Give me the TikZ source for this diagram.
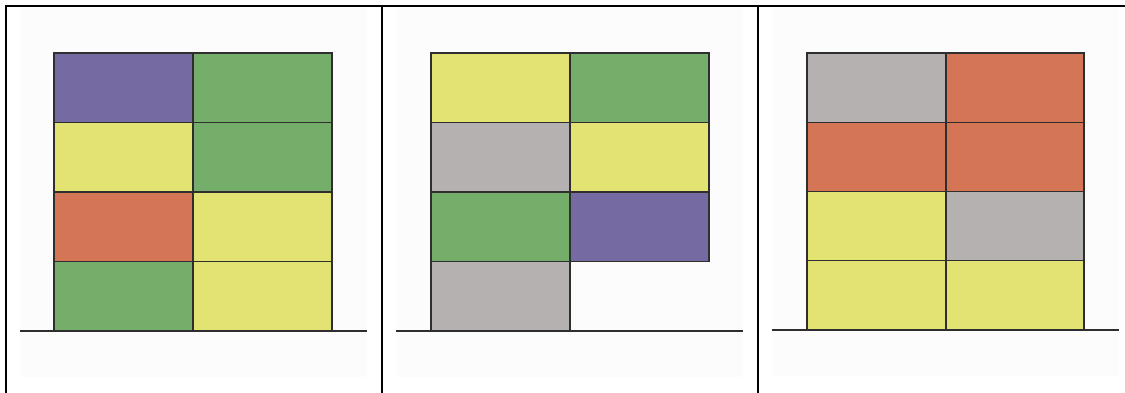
\documentclass[tikz,border=0pt]{standalone}
\definecolor{cpurple}{HTML}{766AA3}
\definecolor{cgreen}{HTML}{75AE6A}
\definecolor{cyellow}{HTML}{E3E373}
\definecolor{corange}{HTML}{D47555}
\definecolor{cgray}{HTML}{B5B1B0}
\definecolor{cbg}{HTML}{FCFCFC}
\definecolor{cedge}{HTML}{2E2E2E}
\tikzset{
  frame/.style={line width=2pt,black},
  panelbg/.style={fill=cbg,draw=none},
  ground/.style={line width=1.6pt,draw=cedge},
  blockbox/.style={draw=cedge,line width=1.3pt},
}
\begin{document}
\begin{tikzpicture}[x=1pt,y=-1pt]
\useasboundingbox (0,0) rectangle (1125,393);
\fill[white] (0,0) rectangle (1125,393);
% panel backgrounds
\fill[panelbg] (20,8) rectangle (367,377);
\fill[panelbg] (396,8) rectangle (743,377);
\fill[panelbg] (772,8) rectangle (1119,376);
% frame
\draw[frame] (6,393) -- (6,6.5) -- (1125,6.5);
\draw[frame] (382,6.5) -- (382,393);
\draw[frame] (758,6.5) -- (758,393);
% panel 1
\foreach \r/\a/\b in {0/cpurple/cgreen,1/cyellow/cgreen,2/corange/cyellow,3/cgreen/cyellow}{
  \pgfmathsetmacro{\ytop}{53+69.5*\r}
  \pgfmathsetmacro{\ybot}{53+69.5*(\r+1)}
  \filldraw[blockbox,fill=\a] (54,\ytop) rectangle (193,\ybot);
  \filldraw[blockbox,fill=\b] (193,\ytop) rectangle (332,\ybot);
}
\draw[ground] (20,331) -- (367,331);
% panel 2
\foreach \r/\a/\b in {0/cyellow/cgreen,1/cgray/cyellow,2/cgreen/cpurple}{
  \pgfmathsetmacro{\ytop}{53+69.5*\r}
  \pgfmathsetmacro{\ybot}{53+69.5*(\r+1)}
  \filldraw[blockbox,fill=\a] (431,\ytop) rectangle (570,\ybot);
  \filldraw[blockbox,fill=\b] (570,\ytop) rectangle (709,\ybot);
}
\filldraw[blockbox,fill=cgray] (431,261.5) rectangle (570,331);
\draw[ground] (396,331) -- (743,331);
% panel 3
\foreach \r/\a/\b in {0/cgray/corange,1/corange/corange,2/cyellow/cgray,3/cyellow/cyellow}{
  \pgfmathsetmacro{\ytop}{53+69.25*\r}
  \pgfmathsetmacro{\ybot}{53+69.25*(\r+1)}
  \filldraw[blockbox,fill=\a] (807,\ytop) rectangle (946,\ybot);
  \filldraw[blockbox,fill=\b] (946,\ytop) rectangle (1084,\ybot);
}
\draw[ground] (772,330) -- (1119,330);
\end{tikzpicture}
\end{document}
